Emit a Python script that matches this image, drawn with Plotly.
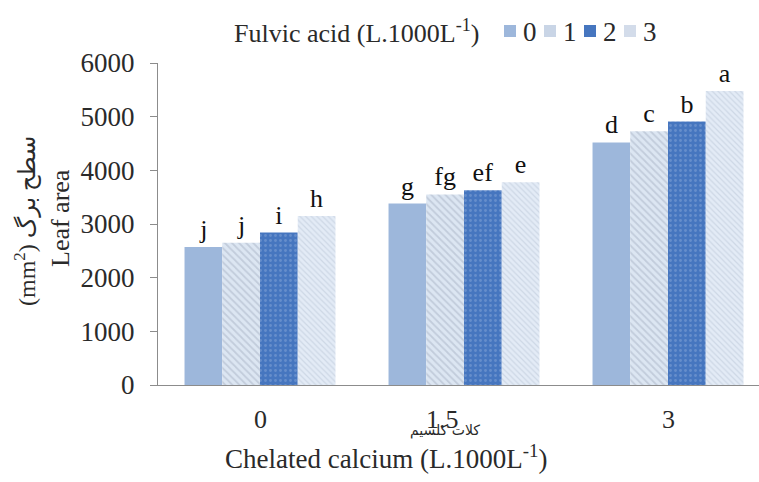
import plotly.graph_objects as go

# ---- data ----
calcium_levels = ["0", "1.5", "3"]
fulvic_levels = ["0", "1", "2", "3"]
leaf_area_f0 = [2570, 3380, 4520]
leaf_area_f1 = [2650, 3550, 4730]
leaf_area_f2 = [2840, 3630, 4910]
leaf_area_f3 = [3150, 3780, 5480]
letters_f0 = ["j", "g", "d"]
letters_f1 = ["j", "fg", "c"]
letters_f2 = ["i", "ef", "b"]
letters_f3 = ["h", "e", "a"]

W, H = 759, 482
L, R, T, B = 158, 0, 63, 97
PW, PH = W - L - R, H - T - B
FONT = "Liberation Serif, Times New Roman, DejaVu Sans, serif"
TXT = "#2a2a2a"


def px(x):
    return (x - L) / PW


def py(y):
    return (H - B - y) / PH


styles = [
    dict(color="#9db7db", pattern=None, swatch="#9db7db"),
    dict(color="#dce6f2", pattern=dict(shape="\\", fgcolor="#a7b2c4", bgcolor="#dce6f2", size=5, solidity=0.35), swatch="#c9d5e6"),
    dict(color="#4676bf", pattern=dict(shape=".", fgcolor="#86a6d8", bgcolor="#4676bf", size=5, solidity=0.25), swatch="#4676bf"),
    dict(color="#e3ebf6", pattern=dict(shape="\\", fgcolor="#b8c3d4", bgcolor="#e3ebf6", size=4, solidity=0.3), swatch="#d3dcea"),
]

series = [leaf_area_f0, leaf_area_f1, leaf_area_f2, leaf_area_f3]
letters = [letters_f0, letters_f1, letters_f2, letters_f3]

fig = go.Figure()
for name, vals, lab, st in zip(fulvic_levels, series, letters, styles):
    marker = dict(color=st["color"], line=dict(width=0))
    if st["pattern"]:
        marker["pattern"] = st["pattern"]
    fig.add_trace(go.Bar(
        x=calcium_levels, y=vals, name=name, marker=marker,
        text=lab, textposition="outside", cliponaxis=False,
        textfont=dict(family=FONT, size=26, color="#111111"),
        showlegend=False,
    ))

annotations = []
shapes = []

# legend (manual, compact like original)
annotations.append(dict(xref="paper", yref="paper", x=px(357), y=py(32),
                        text="Fulvic acid (L.1000L<sup>-1</sup>)", showarrow=False,
                        font=dict(family=FONT, size=26, color=TXT),
                        xanchor="center", yanchor="middle"))
sq_centers = [510, 550, 590, 630]
for name, st, cx in zip(fulvic_levels, styles, sq_centers):
    shapes.append(dict(type="rect", xref="paper", yref="paper",
                       x0=px(cx - 6), x1=px(cx + 6), y0=py(37), y1=py(25),
                       fillcolor=st["swatch"], line=dict(width=0)))
    annotations.append(dict(xref="paper", yref="paper", x=px(cx + 11), y=py(32),
                            text=name, showarrow=False,
                            font=dict(family=FONT, size=27, color=TXT),
                            xanchor="left", yanchor="middle"))

# x tick labels (the middle one sits slightly left in the original)
tick_shift = [0, -22, 0]
for i, (cat, sh) in enumerate(zip(calcium_levels, tick_shift)):
    annotations.append(dict(xref="x", yref="paper", x=i, y=py(419), xshift=sh,
                            text=cat, showarrow=False,
                            font=dict(family=FONT, size=26, color=TXT),
                            xanchor="center", yanchor="middle"))

# y axis titles
annotations.append(dict(xref="paper", yref="paper", x=px(25), y=py(221),
                        text="(mm<sup>2</sup>) سطح برگ", showarrow=False, textangle=-90,
                        font=dict(family=FONT, size=24, color=TXT),
                        xanchor="center", yanchor="middle"))
annotations.append(dict(xref="paper", yref="paper", x=px(60), y=py(218),
                        text="Leaf area", showarrow=False, textangle=-90,
                        font=dict(family=FONT, size=26, color=TXT),
                        xanchor="center", yanchor="middle"))
# x axis titles
annotations.append(dict(xref="paper", yref="paper", x=px(445), y=py(430),
                        text="کلات کلسیم", showarrow=False,
                        font=dict(family="DejaVu Sans, sans-serif", size=14, color=TXT),
                        xanchor="center", yanchor="middle"))
annotations.append(dict(xref="paper", yref="paper", x=px(386), y=py(457),
                        text="Chelated calcium (L.1000L<sup>-1</sup>)", showarrow=False,
                        font=dict(family=FONT, size=27, color=TXT),
                        xanchor="center", yanchor="middle"))

fig.update_layout(
    width=W, height=H,
    margin=dict(l=L, r=R, t=T, b=B, pad=0),
    paper_bgcolor="white", plot_bgcolor="white",
    barmode="group", bargap=0.26, bargroupgap=0,
    font=dict(family=FONT, color=TXT),
    showlegend=False,
    annotations=annotations, shapes=shapes,
    xaxis=dict(type="category", range=[-0.5, 2.446], showline=True, linecolor="#8c8c8c",
               linewidth=1, ticks="", showgrid=False, zeroline=False,
               showticklabels=False),
    yaxis=dict(range=[0, 6000], dtick=1000, showline=True, linecolor="#8c8c8c",
               linewidth=1, ticks="outside", ticklen=7, tickcolor="#8c8c8c",
               showgrid=False, zeroline=False,
               tickfont=dict(family=FONT, size=27, color=TXT), ticklabelstandoff=10),
)

fig.write_html("out.html")
